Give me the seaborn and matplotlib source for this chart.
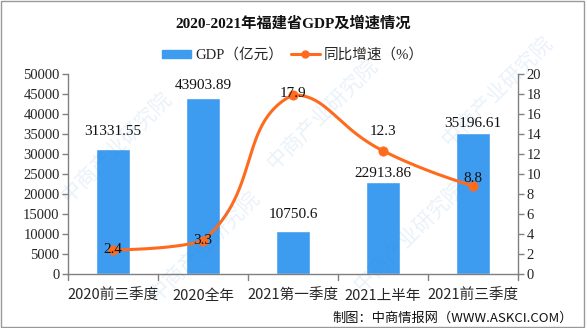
import numpy as np
import pandas as pd
import matplotlib
matplotlib.use("Agg")
import matplotlib.pyplot as plt
import seaborn as sns
from matplotlib.patches import Patch
from matplotlib.lines import Line2D

categories = ["2020前三季度", "2020全年", "2021第一季度", "2021上半年", "2021前三季度"]
gdp = [31331.55, 43903.89, 10750.6, 22913.86, 35196.61]
growth = [2.4, 3.3, 17.9, 12.3, 8.8]
gdp_labels = ["31331.55", "43903.89", "10750.6", "22913.86", "35196.61"]
growth_labels = ["2.4", "3.3", "17.9", "12.3", "8.8"]
left_ticks = list(range(0, 50001, 5000))
right_ticks = list(range(0, 21, 2))

sns.set_theme(style="white")
plt.rcParams['font.family'] = ['Noto Sans CJK SC', 'DejaVu Sans']
plt.rcParams['axes.unicode_minus'] = False

BLUE = "#3E9CF0"
ORANGE = "#FF6B1E"
GRAY = "#808080"
num_font = ['Liberation Serif', 'Noto Sans CJK SC']

fig = plt.figure(figsize=(5.86, 3.28), dpi=100)
fig.patch.set_facecolor("white")
fig.add_artist(plt.Rectangle((0.002, 0.003), 0.995, 0.994, transform=fig.transFigure,
                             fill=False, edgecolor="#999999", linewidth=1.0))

# watermark (behind everything)
for (wx, wy) in [(0.2, 0.55), (0.55, 0.65), (0.85, 0.72), (0.35, 0.25), (0.7, 0.28)]:
    fig.text(wx, wy, "中商产业研究院", rotation=45, ha="center", va="center", fontsize=15,
             color="#2a7fc8", alpha=0.10, zorder=0)

ax = fig.add_axes([0.116, 0.165, 0.768, 0.61])
ax.patch.set_alpha(0)
df = pd.DataFrame({"cat": categories, "gdp": gdp})
sns.barplot(data=df, x="cat", y="gdp", color=BLUE, width=0.37, ax=ax, saturation=1)
ax.set_xlim(-0.5, 4.5)
ax.set_ylim(0, 50000)
ax.set_yticks(left_ticks)
ax.set_yticklabels([str(t) for t in left_ticks], family=num_font, fontsize=10.5)
ax.set_xlabel("")
ax.set_ylabel("")
ax.set_xticks(np.arange(len(categories)))
ax.set_xticklabels(categories, fontsize=10.5)
ax.tick_params(axis="x", length=0, pad=11)
ax.tick_params(axis="y", length=4, color=GRAY, width=1, direction="out", pad=2, left=True)
for b in np.arange(-0.5, 5.0, 1.0):
    ax.plot([b, b], [0, -1600], color=GRAY, lw=1, clip_on=False)
for s in ["top", "right"]:
    ax.spines[s].set_visible(False)
for s in ["left", "bottom"]:
    ax.spines[s].set_color(GRAY)
    ax.spines[s].set_linewidth(1)

# label positions (data units) chosen to avoid the line, as in the original
gdp_label_y = [35500, 47000, 14750, 25000, 37500]
for i, lab in enumerate(gdp_labels):
    ax.text(i, gdp_label_y[i], lab, ha="center", va="center", fontsize=11, family=num_font,
            color="#111111", clip_on=False)

ax2 = ax.twinx()
ax2.set_ylim(0, 20)
ax2.set_yticks(right_ticks)
ax2.set_yticklabels([str(t) for t in right_ticks], family=num_font, fontsize=10.5)
ax2.tick_params(axis="y", length=4, color=GRAY, width=1, direction="out", pad=2, right=True)
for s in ["top", "left", "bottom"]:
    ax2.spines[s].set_visible(False)
ax2.spines["right"].set_color(GRAY)
ax2.spines["right"].set_linewidth(1)

# smooth curve: Bezier control points in pixel-like space (ECharts-style smoothing)
sx, sy = 90.0, 10.0  # px per data unit
P = np.column_stack([np.arange(len(growth)) * sx, np.array(growth) * sy])
n = len(P)
ymin, ymax = P[:, 1].min(), P[:, 1].max()
cin, cout = P.copy(), P.copy()
for i in range(1, n - 1):
    v = P[i + 1] - P[i - 1]
    d0 = np.linalg.norm(P[i] - P[i - 1])
    d1 = np.linalg.norm(P[i + 1] - P[i])
    tot = d0 + d1
    cin[i] = P[i] - v * 0.5 * d0 / tot
    cout[i] = P[i] + v * 0.5 * d1 / tot
cin[:, 1] = np.clip(cin[:, 1], ymin, ymax)
cout[:, 1] = np.clip(cout[:, 1], ymin, ymax)
cx, cy = [], []
t = np.linspace(0, 1, 60)[:, None]
for i in range(n - 1):
    a, b, c, d = P[i], cout[i], cin[i + 1], P[i + 1]
    pts = (1 - t) ** 3 * a + 3 * (1 - t) ** 2 * t * b + 3 * (1 - t) * t ** 2 * c + t ** 3 * d
    cx.extend(pts[:, 0] / sx)
    cy.extend(pts[:, 1] / sy)
ax2.plot(cx, cy, color=ORANGE, lw=2.2, zorder=3)
sns.scatterplot(x=np.arange(n), y=growth, color=ORANGE, s=45, edgecolor=ORANGE, ax=ax2,
                zorder=4, legend=False)

growth_offsets = [0.0, 0.0, 0.1, 1.9, 0.7]
for i, lab in enumerate(growth_labels):
    ax2.text(i, growth[i] + growth_offsets[i], lab, ha="center", va="center", fontsize=11,
             family=num_font, color="#111111", zorder=5)

# title and legend
fig.text(0.5, 0.928, "2020-2021年福建省GDP及增速情况", ha="center", va="center",
         fontsize=11, fontweight="bold", color="#111111",
         family=['Liberation Serif', 'Noto Sans CJK SC'])
handles = [Patch(facecolor=BLUE, edgecolor=BLUE),
           Line2D([0], [0], color=ORANGE, lw=2.2, marker="o", markersize=5)]
fig.legend(handles, ["GDP（亿元）", "同比增速（%）"], loc="center", bbox_to_anchor=(0.5, 0.832),
           ncol=2, frameon=False, handlelength=2.0, handleheight=0.5, columnspacing=0.5,
           handletextpad=0.3, prop={'family': ['Liberation Serif', 'Noto Sans CJK SC'], 'size': 10.5})

fig.text(0.978, 0.03, "制图：中商情报网（WWW.ASKCI.COM）", ha="right", va="center", fontsize=9.5,
         color="#111111")

fig.savefig("out.png", dpi=100, facecolor="white")
